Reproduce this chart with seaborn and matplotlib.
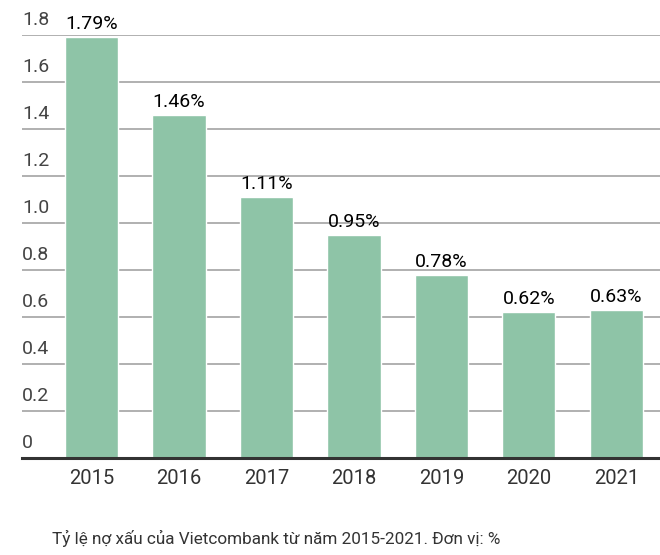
import matplotlib
matplotlib.use("Agg")
import matplotlib.pyplot as plt
import matplotlib.transforms as mtransforms
import seaborn as sns
import pandas as pd

# Data
years = ["2015", "2016", "2017", "2018", "2019", "2020", "2021"]
npl_ratio = [1.79, 1.46, 1.11, 0.95, 0.78, 0.62, 0.63]
y_ticks = [0, 0.2, 0.4, 0.6, 0.8, 1.0, 1.2, 1.4, 1.6, 1.8]
y_tick_labels = ["0", "0.2", "0.4", "0.6", "0.8", "1.0", "1.2", "1.4", "1.6", "1.8"]
caption = "Tỷ lệ nợ xấu của Vietcombank từ năm 2015-2021. Đơn vị: %"

df = pd.DataFrame({"Year": years, "NPL": npl_ratio})

sns.set_style("white")
plt.rcParams['font.family'] = ['Roboto', 'DejaVu Sans']

fig = plt.figure(figsize=(6.6, 5.55), dpi=100)
ax = fig.add_axes([22 / 660, (555 - 458) / 555, 1 - 22 / 660, (458 - 35) / 555])

sns.barplot(data=df, x="Year", y="NPL", color="#8ec4a7", saturation=1,
            width=0.61, ax=ax, zorder=3)

ax.set_xlim(-0.794, 6.5)
ax.set_ylim(0, 1.8)

# grid lines
ax.set_yticks(y_ticks)
ax.set_yticklabels([])
ax.tick_params(axis="y", length=0)
ax.yaxis.grid(True, color="#b0b0b0", linewidth=1.4, zorder=0)
ax.set_axisbelow(True)

# y tick labels sitting above their grid lines
trans = mtransforms.blended_transform_factory(ax.transAxes, ax.transData)
shift = mtransforms.ScaledTranslation(0, 4 / 72, fig.dpi_scale_trans)
for v, lab in zip(y_ticks, y_tick_labels):
    ax.text(0.0, v, lab, transform=trans + shift, ha="left", va="bottom",
            fontsize=14, color="#444444")

# value labels
for i, v in enumerate(npl_ratio):
    ax.annotate(f"{v:.2f}%", (i, v), xytext=(0, 3), textcoords="offset points",
                ha="center", va="bottom", fontsize=14, color="#000000",
                annotation_clip=False)

for s in ["left", "right", "top"]:
    ax.spines[s].set_visible(False)
ax.spines["bottom"].set_color("#333333")
ax.spines["bottom"].set_linewidth(2.2)
ax.spines["bottom"].set_zorder(4)

ax.set_xlabel("")
ax.set_ylabel("")
ax.tick_params(axis="x", length=0, labelsize=14.5, labelcolor="#333333", pad=8)

fig.text(52 / 660, 1 - 538 / 555, caption, ha="left", va="center",
         fontsize=12.3, color="#333333")

fig.savefig("out.png", dpi=100)
